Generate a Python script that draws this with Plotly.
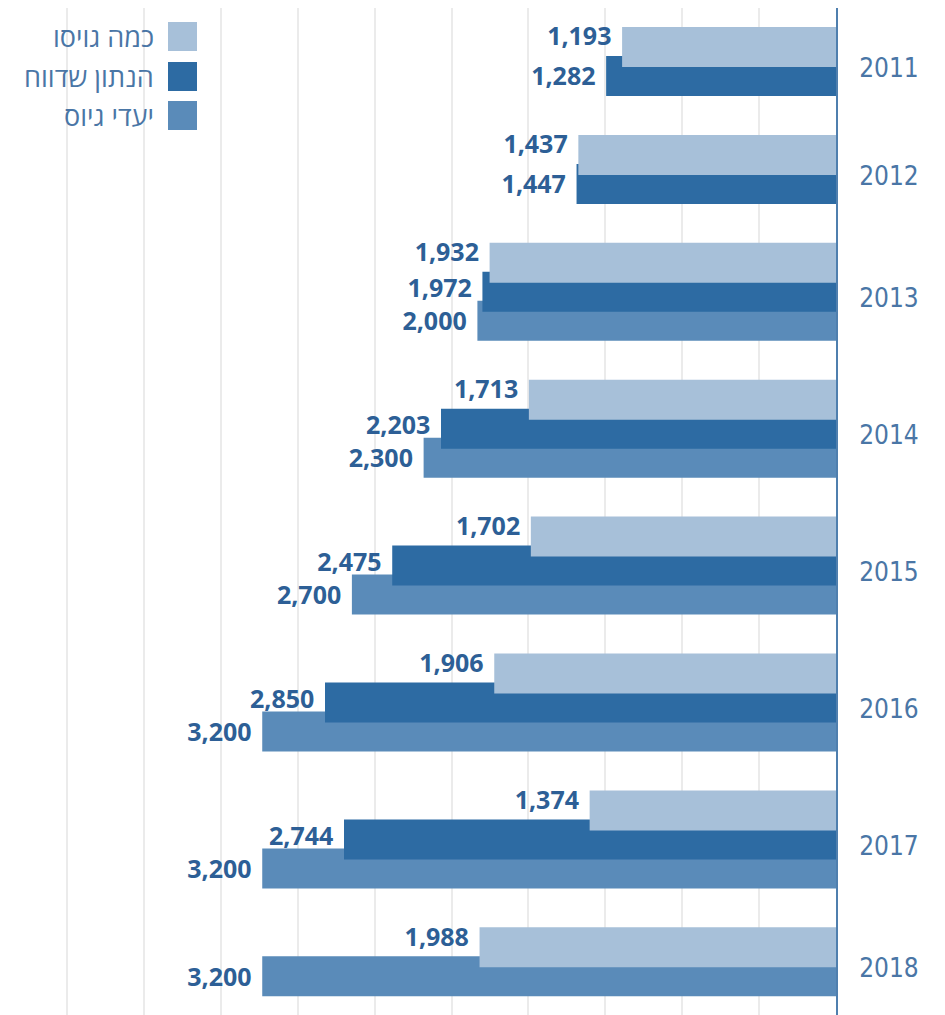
import plotly.graph_objects as go

# ---------------- data ----------------
years = ["2011", "2012", "2013", "2014", "2015", "2016", "2017", "2018"]
recruited = [1193, 1437, 1932, 1713, 1702, 1906, 1374, 1988]          # כמה גויסו
reported = [1282, 1447, 1972, 2203, 2475, 2850, 2744, None]           # הנתון שדווח
targets = [None, None, 2000, 2300, 2700, 3200, 3200, 3200]            # יעדי גיוס
series_names = ["כמה גויסו", "הנתון שדווח", "יעדי גיוס"]

# ---------------- style ----------------
colors = ["#a7c0d9", "#2d6ba3", "#5a8bb9"]
label_color = "#2d5f96"
year_color = "#4a76a6"
W, H = 945, 1015
OFF = 8                # page body margin of the html page
AXIS_PX = 836          # window x of the value axis (0)
GRID_LEFT_PX = 67      # window x of the left-most grid line
PLOT_LEFT_PX = 60
PX_PER_UNIT = 0.1793
BAR_H = 40
STEP = 29
START = 27
GAP = 38.9
LABEL_DY = {0: -8, 1: -1, 2: 3}

series = [recruited, reported, targets]

# ---------------- layout computation of bar slots (window-pixel units) ----------------
pos = [[None] * len(years) for _ in series]
label_pos = [[None] * len(years) for _ in series]
group_centers = []
cursor = START
for i in range(len(years)):
    present = [k for k in range(3) if series[k][i] is not None]
    n = len(present)
    for j, k in enumerate(present):
        c = cursor + j * STEP + BAR_H / 2
        pos[k][i] = c
        dy = LABEL_DY[0] if j == 0 else (LABEL_DY[2] if j == n - 1 else LABEL_DY[1])
        label_pos[k][i] = c + dy
    h = BAR_H + (n - 1) * STEP
    group_centers.append(cursor + h / 2)
    cursor += h + GAP

fig = go.Figure()

for k in [2, 1, 0]:
    xs = [v for v in series[k] if v is not None]
    ys = [pos[k][i] for i, v in enumerate(series[k]) if v is not None]
    fig.add_trace(go.Bar(
        orientation="h", x=xs, y=ys, width=BAR_H,
        marker=dict(color=colors[k], line=dict(width=0)),
        name=series_names[k], showlegend=False, hoverinfo="x",
    ))

for k in [2, 1, 0]:
    xs = [v for v in series[k] if v is not None]
    ys = [label_pos[k][i] for i, v in enumerate(series[k]) if v is not None]
    fig.add_trace(go.Scatter(
        mode="text", x=xs, y=ys,
        text=[f"{v:,}\u00a0\u2009" for v in xs],
        textposition="middle left",
        textfont=dict(family="Open Sans", size=25, color=label_color, weight="bold"),
        showlegend=False, hoverinfo="skip",
    ))

R = (AXIS_PX - PLOT_LEFT_PX) / PX_PER_UNIT
DT = (AXIS_PX - GRID_LEFT_PX) / 10 / PX_PER_UNIT
plot_l = PLOT_LEFT_PX - OFF
plot_r = AXIS_PX - OFF
plot_w = plot_r - plot_l


def px_to_paper_x(px):
    return (px - OFF - plot_l) / plot_w


def px_to_paper_y(py):
    return 1 - (py - OFF) / H


# manual legend (squares to the right of the Hebrew text)
legend_top = [22, 62, 101]
SQ = 29
SQ_X0 = 168
for k in range(3):
    y0 = legend_top[k]
    fig.add_shape(type="rect", xref="paper", yref="paper",
                  x0=px_to_paper_x(SQ_X0), x1=px_to_paper_x(SQ_X0 + SQ),
                  y0=px_to_paper_y(y0 + SQ), y1=px_to_paper_y(y0),
                  fillcolor=colors[k], line=dict(width=0), layer="above")
    fig.add_annotation(xref="paper", yref="paper",
                       x=px_to_paper_x(156), y=px_to_paper_y(y0 + SQ / 2),
                       xanchor="right", yanchor="middle", showarrow=False,
                       text=series_names[k],
                       font=dict(family="Liberation Sans Narrow, Open Sans, DejaVu Sans", size=27, color=year_color))

fig.update_layout(
    width=W, height=H,
    margin=dict(l=plot_l, r=W - plot_r, t=0, b=0, autoexpand=False),
    barmode="overlay",
    plot_bgcolor="white", paper_bgcolor="white",
    xaxis=dict(range=[R, 0], showticklabels=False, ticks="", showgrid=True,
               gridcolor="#ebebeb", gridwidth=1.5, tick0=0, dtick=DT,
               zeroline=False, showline=False, fixedrange=True),
    yaxis=dict(range=[H + OFF, OFF], side="right", tickvals=[c + 6 for c in group_centers],
               ticktext=years, ticks="", showgrid=False, zeroline=False,
               showline=True, linecolor="#4f7fae", linewidth=2,
               ticklabelstandoff=16, automargin=False,
               tickfont=dict(family="Liberation Sans Narrow, DejaVu Sans Condensed, Open Sans", size=26, color=year_color),
               fixedrange=True),
)

fig.write_html("out.html")
